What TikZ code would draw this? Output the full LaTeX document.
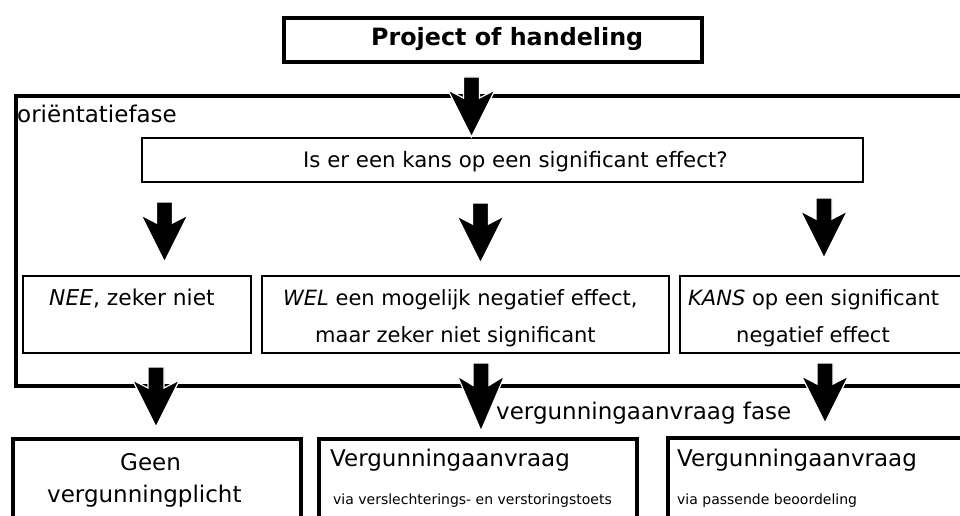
\documentclass[tikz,border=0pt]{standalone}
\usepackage{fontspec}
\setmainfont{DejaVu Sans}
\newcommand\blockarrow[3]{%
  \pgfmathsetmacro\bahnotch{(#3-#2-13)/47*8}%
  \filldraw[fill=black,draw=white,line width=1.2pt]
    ({#1-8},#2) -- ({#1+8},#2) -- ({#1+8},{#2+13+\bahnotch}) -- ({#1+23.5},{#2+13})
    -- (#1,#3) -- ({#1-23.5},{#2+13}) -- ({#1-8},{#2+13+\bahnotch}) -- cycle;}
\begin{document}
\begin{tikzpicture}[x=1pt,y=-1pt,
  thickbox/.style={draw=black,line width=4pt,inner sep=0pt,anchor=north west},
  thinbox/.style={draw=black,line width=2pt,inner sep=0pt,anchor=north west},
  lbl/.style={anchor=base west,inner sep=0pt,font=\fontsize{21}{25}\selectfont},
  biglbl/.style={anchor=base west,inner sep=0pt,font=\fontsize{23}{27}\selectfont},
  smalllbl/.style={anchor=base west,inner sep=0pt,font=\fontsize{14}{17}\selectfont}]
\clip (0,0) rectangle (960,516);
\fill[white] (0,0) rectangle (960,516);
% phase frame
\node[thickbox,minimum width=990pt,minimum height=289.5pt] (orient) at (14,94.5) {};
% boxes
\node[thickbox,minimum width=418pt,minimum height=44pt] (proj) at (282,16) {};
\node[thinbox,minimum width=721pt,minimum height=44pt] (q) at (141,137) {};
\node[thinbox,minimum width=228pt,minimum height=77pt] (b1) at (22,275) {};
\node[thinbox,minimum width=407pt,minimum height=77pt] (b2) at (261,275) {};
\node[thinbox,minimum width=300pt,minimum height=77pt] (b3) at (679,275) {};
\node[thickbox,minimum width=288pt,minimum height=120pt] (ba) at (10.5,437) {};
\node[thickbox,minimum width=318pt,minimum height=120pt] (bb) at (317,437) {};
\node[thickbox,minimum width=320pt,minimum height=120pt] (bc) at (665.5,436) {};
% texts
\node[biglbl,font=\fontsize{23.8}{28}\selectfont\bfseries] (tproj) at (371,46) {Project of handeling};
\node[biglbl] (torient) at (17,122) {oriëntatiefase};
\node[lbl,font=\fontsize{21.3}{25}\selectfont] (tq) at (303,167) {Is er een kans op een significant effect?};
\node[lbl,font=\fontsize{21.8}{25}\selectfont] (t1) at (49,305) {\textit{NEE}, zeker niet};
\node[lbl] (t2a) at (283,305) {\textit{WEL} een mogelijk negatief effect,};
\node[lbl] (t2b) at (315,342) {maar zeker niet significant};
\node[lbl] (t3a) at (688,305) {\textit{KANS} op een significant};
\node[lbl] (t3b) at (736,342) {negatief effect};
\node[biglbl] (tfase) at (496,419) {vergunningaanvraag fase};
\node[biglbl] (ta1) at (120,470) {Geen};
\node[biglbl] (ta2) at (47,502) {vergunningplicht};
\node[biglbl] (tb1) at (330,466) {Vergunningaanvraag};
\node[smalllbl] (tb2) at (333,504) {via verslechterings- en verstoringstoets};
\node[biglbl] (tc1) at (677,466) {Vergunningaanvraag};
\node[smalllbl] (tc2) at (677,504) {via passende beoordeling};
% block arrows
\blockarrow{471.5}{77}{137}
\blockarrow{164.5}{202}{262}
\blockarrow{480.5}{203}{263}
\blockarrow{824}{198}{258}
\blockarrow{156}{367}{427}
\blockarrow{481}{363}{431}
\blockarrow{825}{363}{423}
\end{tikzpicture}
\end{document}
